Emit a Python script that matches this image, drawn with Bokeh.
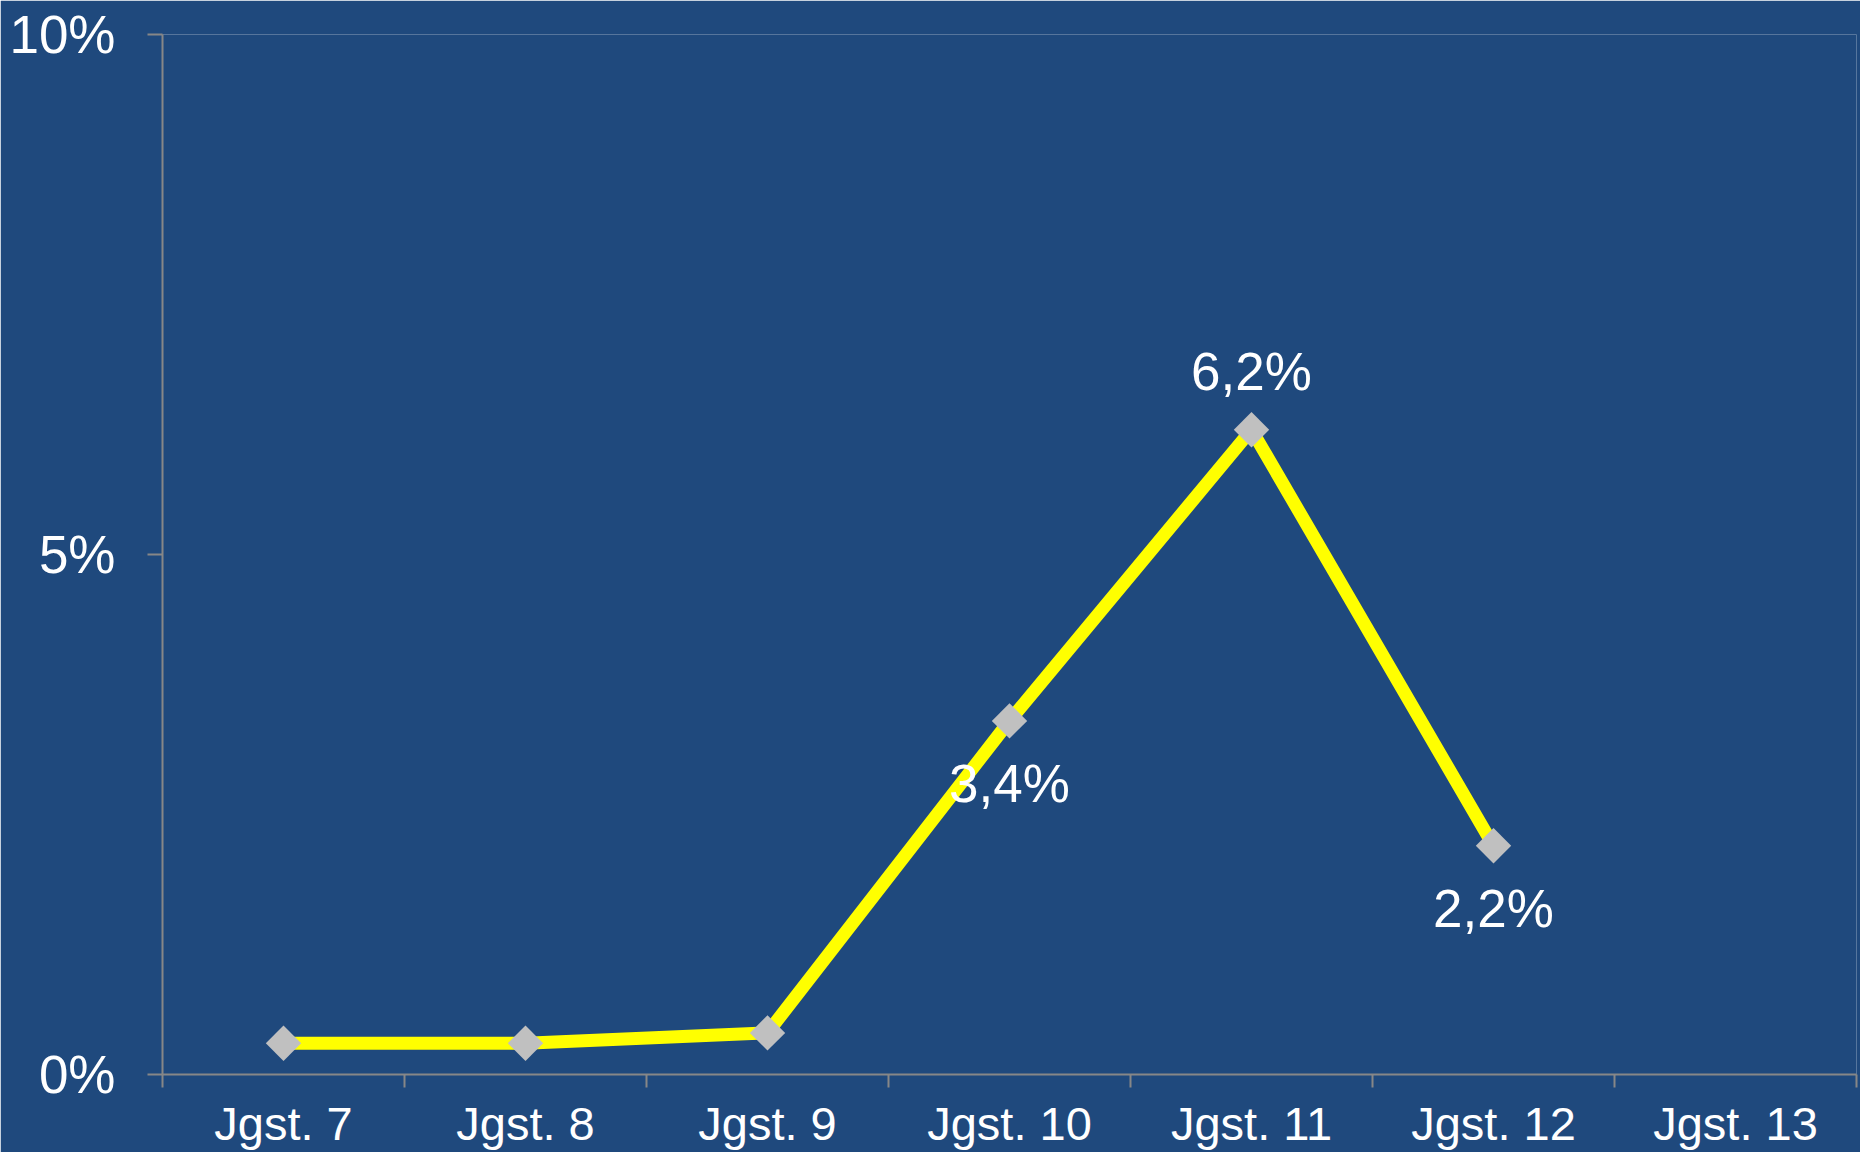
import math
from bokeh.plotting import figure
from bokeh.models import FixedTicker, ColumnDataSource, PrintfTickFormatter
from bokeh.core.properties import value
from bokeh.embed import file_html
from bokeh.resources import INLINE

# ---- data ----
categories = ["Jgst. 7", "Jgst. 8", "Jgst. 9", "Jgst. 10", "Jgst. 11", "Jgst. 12", "Jgst. 13"]
values = [0.3, 0.3, 0.4, 3.4, 6.2, 2.2, None]
data_labels = [None, None, None, "3,4%", "6,2%", "2,2%", None]
label_side = [None, None, None, "below", "above", "below", None]
y_ticks = [0, 5, 10]

BG = "#1F497D"
AXIS = "#878787"
FONT = "Liberation Sans"

xc = [i + 0.5 for i in range(len(categories))]
yv = [float("nan") if v is None else v for v in values]

p = figure(width=1860, height=1152, output_backend="svg", toolbar_location=None,
           x_range=(0, len(categories)), y_range=(0, 10),
           min_border_left=162, min_border_top=34, min_border_right=4, min_border_bottom=76)
p.background_fill_color = BG
p.border_fill_color = BG
p.outline_line_color = None
p.xgrid.visible = False
p.ygrid.visible = False

# x axis: labels at centres, tick marks at boundaries (minor ticks)
p.xaxis.ticker = FixedTicker(ticks=xc, minor_ticks=list(range(len(categories) + 1)))
p.xaxis.major_label_overrides = {x: c for x, c in zip(xc, categories)}
p.xaxis.major_tick_line_color = None
p.xaxis.major_tick_out = 0
p.xaxis.major_tick_in = 0
p.xaxis.minor_tick_line_color = AXIS
p.xaxis.minor_tick_line_width = 2
p.xaxis.minor_tick_out = 13
p.xaxis.minor_tick_in = 0
p.xaxis.axis_line_color = AXIS
p.xaxis.axis_line_width = 2
p.xaxis.major_label_text_font = FONT
p.xaxis.major_label_text_font_size = "47px"
p.xaxis.major_label_text_color = "white"
p.xaxis.major_label_standoff = 9

# y axis
p.yaxis.ticker = FixedTicker(ticks=y_ticks, minor_ticks=[])
p.yaxis.formatter = PrintfTickFormatter(format="%d%%")
p.yaxis.major_tick_line_color = AXIS
p.yaxis.major_tick_line_width = 2
p.yaxis.major_tick_out = 15
p.yaxis.major_tick_in = 0
p.yaxis.axis_line_color = AXIS
p.yaxis.axis_line_width = 2
p.yaxis.major_label_text_font = FONT
p.yaxis.major_label_text_font_size = "53px"
p.yaxis.major_label_text_color = "white"
p.yaxis.major_label_standoff = 32

# line + markers
p.line(xc, yv, line_color="#FFFF00", line_width=13, line_join="miter")
p.scatter(xc, yv, marker="square", angle=math.pi / 4, size=25,
          fill_color="#C0C0C0", line_color=None)

# data labels
lx, ly, lt, lo = [], [], [], []
for x, v, t, s in zip(xc, values, data_labels, label_side):
    if t is None or v is None:
        continue
    lx.append(x)
    ly.append(v)
    lt.append(t)
    lo.append(-58 if s == "above" else 63)
src = ColumnDataSource(dict(x=lx, y=ly, text=lt, yo=lo))
p.text("x", "y", text="text", y_offset="yo", source=src, text_align="center",
       text_baseline="middle", text_color="white", text_font=value(FONT),
       text_font_size="53px")

open("out.html", "w").write(file_html(p, INLINE))
